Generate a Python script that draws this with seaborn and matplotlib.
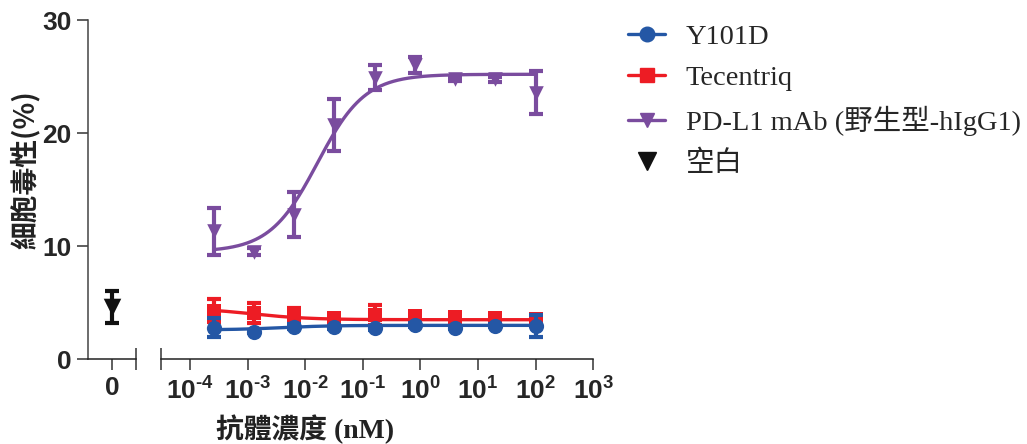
import numpy as np
import pandas as pd
import matplotlib
matplotlib.use("Agg")
import matplotlib.pyplot as plt
import seaborn as sns
from matplotlib.lines import Line2D
from matplotlib.ticker import FixedLocator, NullLocator, FuncFormatter

# ---------------- data ----------------
conc_nM = [0.000256, 0.00128, 0.0064, 0.032, 0.16, 0.8, 4, 20, 100]

y101d_mean = [2.81, 2.44, 2.88, 2.83, 2.76, 3.03, 2.80, 2.97, 2.96]
y101d_err = [0.80, 0.15, 0.20, 0.15, 0.20, 0.15, 0.15, 0.15, 0.95]

tecentriq_mean = [4.30, 4.07, 3.92, 3.62, 3.92, 3.80, 3.70, 3.65, 3.55]
tecentriq_err = [1.00, 0.90, 0.60, 0.20, 0.90, 0.25, 0.25, 0.20, 0.20]

pdl1_mean = [11.3, 9.5, 12.8, 20.7, 24.9, 26.0, 24.8, 24.75, 23.56]
pdl1_err = [2.1, 0.3, 2.0, 2.3, 1.1, 0.7, 0.2, 0.2, 1.9]

blank_mean = [4.6]
blank_err = [1.4]

# fitted 4-parameter logistic curves: bottom, top, logEC50, hill
pdl1_fit = (9.5, 25.2, -1.79, 1.05)
tecentriq_fit = (4.55, 3.5, -2.93, 0.85)
y101d_fit = (2.6, 3.0, -2.4, 1.0)

labels = ["Y101D", "Tecentriq", "PD-L1 mAb (野生型-hIgG1)", "空白"]
xtick_exps = [-4, -3, -2, -1, 0, 1, 2, 3]
yticks = [0, 10, 20, 30]

BLUE = "#2457A5"
RED = "#ED1C24"
PURPLE = "#7A4C9E"
BLACK = "#111111"

# ---------------- style ----------------
sns.set_theme(style="ticks")
plt.rcParams["font.family"] = ["Liberation Sans", "Noto Sans CJK TC", "DejaVu Sans"]
plt.rcParams["mathtext.fontset"] = "custom"
plt.rcParams["mathtext.bf"] = "Liberation Sans:bold"
plt.rcParams["mathtext.rm"] = "Liberation Sans:bold"
plt.rcParams["axes.linewidth"] = 1.1

fig = plt.figure(figsize=(10.27, 4.44), dpi=100)
W, H = 1027, 444
y_top, y_bot = 20, 359.3
axL = fig.add_axes([88 / W, 1 - y_bot / H, 48 / W, (y_bot - y_top) / H])
axR = fig.add_axes([160.7 / W, 1 - y_bot / H, (593.3 - 160.7) / W, (y_bot - y_top) / H])


def logistic(x, p):
    b, t, c, h = p
    return b + (t - b) / (1 + 10 ** ((c - np.log10(x)) * h))


xfit = np.logspace(np.log10(conc_nM[0]), np.log10(conc_nM[-1]), 300)

series = [
    (pdl1_mean, pdl1_err, pdl1_fit, PURPLE, "v", 110),
    (tecentriq_mean, tecentriq_err, tecentriq_fit, RED, "s", 95),
    (y101d_mean, y101d_err, y101d_fit, BLUE, "o", 120),
]
z = 2
for mean, err, fit, col, mk, s in series:
    fitdf = pd.DataFrame({"x": xfit, "y": logistic(xfit, fit)})
    sns.lineplot(data=fitdf, x="x", y="y", color=col, linewidth=2.4, ax=axR,
                 zorder=z, legend=False)
    axR.errorbar(conc_nM, mean, yerr=err, fmt="none", ecolor=col, elinewidth=3,
                 capsize=4.8, capthick=3, zorder=z + 0.1, clip_on=False)
    df = pd.DataFrame({"x": conc_nM, "y": mean})
    sns.scatterplot(data=df, x="x", y="y", color=col, marker=mk, s=s,
                    linewidth=0, ax=axR, zorder=z + 0.2, legend=False, clip_on=False)
    z += 1

# blank (left panel)
bdf = pd.DataFrame({"x": [0], "y": blank_mean})
axL.errorbar([0], blank_mean, yerr=blank_err, fmt="none", ecolor=BLACK,
             elinewidth=3, capsize=4.8, capthick=3, zorder=3)
sns.scatterplot(data=bdf, x="x", y="y", color=BLACK, marker="v", s=160,
                linewidth=0, ax=axL, zorder=4, legend=False)

# ---------------- axes ----------------
for ax in (axL, axR):
    ax.set_ylim(0, 30)
    ax.set_xlabel("")
    ax.set_ylabel("")
    ax.spines["top"].set_visible(False)
    ax.spines["right"].set_visible(False)
    ax.spines["bottom"].set_color("#222222")
    ax.spines["left"].set_color("#444444")
    ax.patch.set_alpha(0)

tickfont = dict(fontsize=19, fontweight="bold")

axL.set_xlim(-1, 1)
axL.set_xticks([0])
axL.set_xticklabels(["0"], **tickfont)
axL.xaxis.set_minor_locator(FixedLocator([1]))
axL.set_yticks(yticks)
axL.set_yticklabels([str(v) for v in yticks], **tickfont)
axL.tick_params(axis="both", which="major", direction="out", length=8, width=1.1,
                color="#333333", pad=4)
axL.tick_params(axis="x", which="minor", direction="inout", length=16, width=1.1,
                color="#333333")


def exp_label(v, pos):
    e = int(round(np.log10(v)))
    sup = (r"\text{-}%d" % abs(e)) if e < 0 else "%d" % e
    return r"$\mathbf{10^{%s}}$" % sup


axR.set_xscale("log")
xmin = 10 ** -4.51
axR.set_xlim(xmin, 1000)
axR.spines["left"].set_visible(False)
axR.tick_params(axis="y", left=False, labelleft=False)
axR.xaxis.set_major_locator(FixedLocator([10.0 ** e for e in xtick_exps]))
axR.xaxis.set_major_formatter(FuncFormatter(exp_label))
axR.xaxis.set_minor_locator(FixedLocator([xmin]))
axR.tick_params(axis="x", which="major", direction="out", length=8, width=1.1,
                color="#333333", pad=5, labelsize=19)
axR.tick_params(axis="x", which="minor", direction="inout", length=16, width=1.1,
                color="#333333")

# axis titles
fig.text(25 / W, 1 - 170 / H, "細胞毒性(%)", rotation=90, ha="center", va="center",
         fontsize=20, fontweight="bold", family=["Noto Sans CJK TC", "DejaVu Sans"],
         color="#222222")
fig.text(305 / W, 1 - 429 / H, "抗體濃度 (nM)", ha="center", va="center",
         fontsize=20, fontweight="bold",
         family=["Liberation Serif", "Noto Sans CJK TC"], color="#222222")

# legend
handles = [
    Line2D([], [], color=BLUE, marker="o", markersize=10.5, linewidth=2.4),
    Line2D([], [], color=RED, marker="s", markersize=9.5, linewidth=2.4),
    Line2D([], [], color=PURPLE, marker="v", markersize=10, linewidth=2.4),
    Line2D([], [], color=BLACK, marker="v", markersize=12.5, linewidth=0),
]
fig.legend(handles, labels, loc="upper left", bbox_to_anchor=(628 / W, 1 - 24 / H),
           frameon=False, borderaxespad=0, borderpad=0, handlelength=1.3,
           handletextpad=0.72, labelspacing=0.52,
           prop={"family": ["Liberation Serif", "Noto Sans CJK TC"], "size": 20.5})

fig.savefig("out.png", dpi=100)
